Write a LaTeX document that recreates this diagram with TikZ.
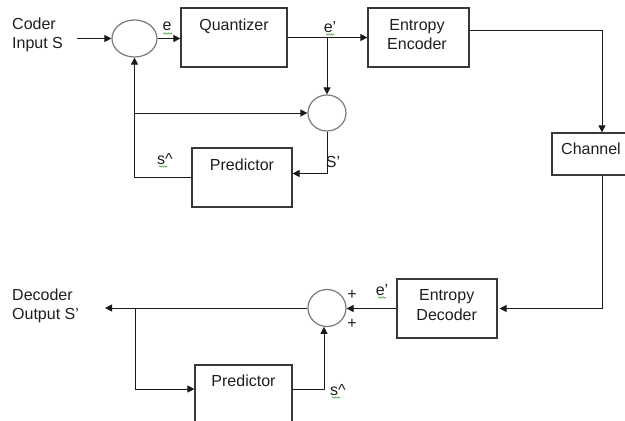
\documentclass[tikz,border=0pt]{standalone}
\usepackage{fontspec}
\setmainfont{Liberation Sans}
\usetikzlibrary{arrows.meta,calc,shapes.geometric,decorations.pathmorphing}
\definecolor{wirecol}{HTML}{1A1A1A}
\definecolor{boxcol}{HTML}{383838}
\definecolor{sumcol}{HTML}{7A7A7A}
\definecolor{txtcol}{HTML}{1E1E1E}
\definecolor{squigcol}{HTML}{4AA04A}
\begin{document}
\begin{tikzpicture}[x=1pt,y=-1pt,
  font=\fontsize{16}{19}\selectfont,
  box/.style={draw=boxcol,line width=1.2pt,rectangle,inner sep=0pt},
  wire/.style={line width=1pt,draw=wirecol},
  arr/.style={wire,-{Triangle[length=7pt,width=7pt]}},
  sumnode/.style={ellipse,draw=sumcol,line width=1.2pt,inner sep=0pt},
  lbl/.style={anchor=base,inner sep=0pt,text=txtcol},
  squig/.style={draw=squigcol,line width=0.6pt,decorate,decoration={snake,amplitude=0.7pt,segment length=2.4pt}}]
\useasboundingbox (0,0) rectangle (625,421);
\clip (0,0) rectangle (625,421);

% ---- coder ----
\node[lbl,anchor=base west] (cin1) at (12,29.3) {Coder};
\node[lbl,anchor=base west] (cin2) at (12,48.3) {Input S};
\coordinate (inS) at (77,38.5);

\node[sumnode,minimum width=45pt,minimum height=37pt] (sum1) at (134.5,38.5) {};
\node[box,minimum width=106pt,minimum height=59pt] (quant) at (234,37.5) {};
\node[lbl] (quantt) at (234,30) {Quantizer};
\node[box,minimum width=101pt,minimum height=59pt] (enc) at (418.5,37.5) {};
\node[lbl] (enct1) at (417,30) {Entropy};
\node[lbl] (enct2) at (417,49) {Encoder};
\node[sumnode,minimum width=38pt,minimum height=36pt] (sum2) at (327,113) {};
\node[box,minimum width=100pt,minimum height=59pt] (pred1) at (242,177.5) {};
\node[lbl] (pred1t) at (242,170) {Predictor};
\node[box,minimum width=100pt,minimum height=42pt] (chan) at (602,154) {};
\node[lbl] (chant) at (591,154) {Channel};

\node[lbl] (elbl) at (167,30) {e};
\node[lbl] (eplbl) at (330,32) {e’};
\node[lbl] (shat1) at (165,164) {s\textasciicircum};
\node[lbl] (sp1) at (333,167) {S’};

\draw[arr] (inS) -- (sum1.west);
\draw[arr] (sum1.east) -- (sum1.east -| quant.west);
\draw[arr] (quant.east) -- (enc.west);
\draw[arr] (quant.east -| sum2.north) -- (sum2.north);
\draw[arr] (pred1.west) -| (sum1.south);
\draw[arr] (sum1.south |- sum2.west) -- (sum2.west);
\draw[arr] (sum2.south) |- ($(pred1.east)+(0,-4)$);
\draw[arr] ($(enc.east)+(0,-7.5)$) -| (chan.north);

% ---- decoder ----
\node[box,minimum width=100pt,minimum height=59pt] (dec) at (447,308.5) {};
\node[lbl] (dect1) at (446.7,300.5) {Entropy};
\node[lbl] (dect2) at (446.7,320) {Decoder};
\node[sumnode,minimum width=38pt,minimum height=37pt] (sum3) at (327,308) {};
\node[box,minimum width=97pt,minimum height=64pt] (pred2) at (243.5,397) {};
\node[lbl] (pred2t) at (243.5,386) {Predictor};
\node[lbl,anchor=base west] (dout1) at (12,300) {Decoder};
\node[lbl,anchor=base west] (dout2) at (12,319.3) {Output S’};
\coordinate (outS) at (105,308);
\coordinate (br) at (135,308);

\node[lbl,anchor=center] (plus1) at (352,295) {+};
\node[lbl,anchor=center] (plus2) at (352,324) {+};
\node[lbl] (eplbl2) at (382,295) {e’};
\node[lbl] (shat2) at (338,395) {s\textasciicircum};

\draw[arr,shorten >=2pt] (chan.south) |- (dec.east);
\draw[arr] (dec.west) -- (dec.west -| sum3.east);
\draw[arr] (sum3.west) -- (outS);
\draw[arr] (br) |- ($(pred2.west)+(0,-8)$);
\draw[arr] ($(pred2.east)+(0,-8)$) -| ($(sum3.south)+(-3,-0.3)$);

% ---- spell-check squiggles ----
\draw[squig] (163,33.5) -- (172,33.5);
\draw[squig] (326,34.5) -- (334,34.5);
\draw[squig] (159,166.5) -- (167,166.5);
\draw[squig] (378,297.5) -- (386,297.5);
\draw[squig] (332,397.5) -- (340,397.5);
\end{tikzpicture}
\end{document}
